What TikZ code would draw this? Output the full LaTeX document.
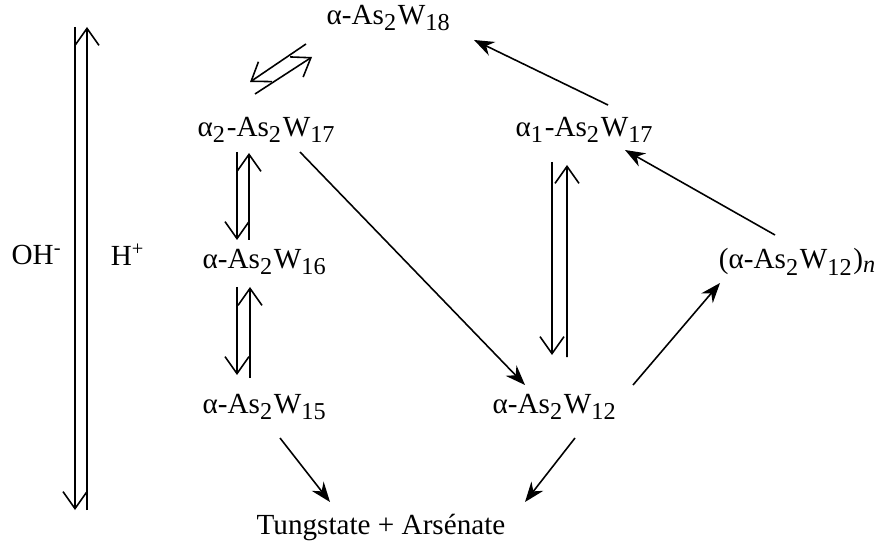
\documentclass[tikz,border=0pt]{standalone}
\usepackage{fontspec}
\setmainfont{Liberation Serif}
\usepackage{tikz}
\usetikzlibrary{arrows.meta}

\newcommand{\sbs}[1]{\textsubscript{\fontsize{6.9}{8}\selectfont #1}}

\tikzset{
    species/.style={inner sep=0pt, font=\fontsize{8.3}{10}\selectfont},
    eqarr/.style={-{Straight Barb[length=1.7mm, width=2.4mm]}, line width=0.45pt},
    react/.style={-{Stealth[length=2mm, width=1.5mm]}, line width=0.45pt}
}

\begin{document}
\begin{tikzpicture}[x=1cm, y=1cm]
    \useasboundingbox (0, 0) rectangle (8.81, -5.49);

    \node[species] (a18)  at (3.89, -0.18) {α-As\sbs{2}W\sbs{18}};
    \node[species] (a2)   at (2.67, -1.30) {α\sbs{2}-As\sbs{2}W\sbs{17}};
    \node[species] (a1)   at (5.85, -1.30) {α\sbs{1}-As\sbs{2}W\sbs{17}};
    \node[species] (a16)  at (2.65, -2.62) {α-As\sbs{2}W\sbs{16}};
    \node[species] (poly) at (7.98, -2.62) {(α-As\sbs{2}W\sbs{12})\sbs{\textit{n}}};
    \node[species] (a15)  at (2.65, -4.07) {α-As\sbs{2}W\sbs{15}};
    \node[species] (a12)  at (5.55, -4.07) {α-As\sbs{2}W\sbs{12}};
    \node[species] (prod) at (3.81, -5.28) {Tungstate + Arsénate};
    \node[species] (oh)   at (0.37, -2.55) {OH\textsuperscript{-}};
    \node[species] (hp)   at (1.28, -2.55) {H\textsuperscript{+}};

    % pH scale
    \coordinate (ohTop) at (0.75, -0.27);
    \coordinate (ohBot) at (0.75, -5.10);
    \coordinate (hTop)  at (0.87, -0.27);
    \coordinate (hBot)  at (0.87, -5.10);
    \draw[eqarr] (ohTop) -- (ohBot);
    \draw[eqarr] (hBot) -- (hTop);

    % equilibria
    \draw[eqarr] ([shift={(-0.83,-0.26)}]a18.center) -- ([shift={(-0.17,0.48)}]a2.center);
    \draw[eqarr] ([shift={(-0.12,0.36)}]a2.center) -- ([shift={(-0.77,-0.39)}]a18.center);
    \draw[eqarr] ([shift={(-0.30,-0.22)}]a2.center) -- ([shift={(-0.28,0.22)}]a16.center);
    \draw[eqarr] ([shift={(-0.16,0.22)}]a16.center) -- ([shift={(-0.18,-0.23)}]a2.center);
    \draw[eqarr] ([shift={(-0.28,-0.25)}]a16.center) -- ([shift={(-0.28,0.32)}]a15.center);
    \draw[eqarr] ([shift={(-0.15,0.29)}]a15.center) -- ([shift={(-0.15,-0.25)}]a16.center);
    \draw[eqarr] ([shift={(-0.33,-0.32)}]a1.center) -- ([shift={(-0.03,0.52)}]a12.center);
    \draw[eqarr] ([shift={(0.12,0.50)}]a12.center) -- ([shift={(-0.18,-0.35)}]a1.center);

    % reactions
    \draw[react] ([shift={(0.23,0.25)}]a1.center) -- ([shift={(0.85,-0.22)}]a18.center);
    \draw[react] ([shift={(-0.23,0.27)}]poly.center) -- ([shift={(0.40,-0.20)}]a1.center);
    \draw[react] ([shift={(0.78,0.22)}]a12.center) -- ([shift={(-0.78,-0.21)}]poly.center);
    \draw[react] ([shift={(0.33,-0.22)}]a2.center) -- ([shift={(-0.30,0.22)}]a12.center);
    \draw[react] ([shift={(0.15,-0.31)}]a15.center) -- ([shift={(-0.51,0.26)}]prod.center);
    \draw[react] ([shift={(0.20,-0.31)}]a12.center) -- ([shift={(1.44,0.26)}]prod.center);
\end{tikzpicture}
\end{document}
